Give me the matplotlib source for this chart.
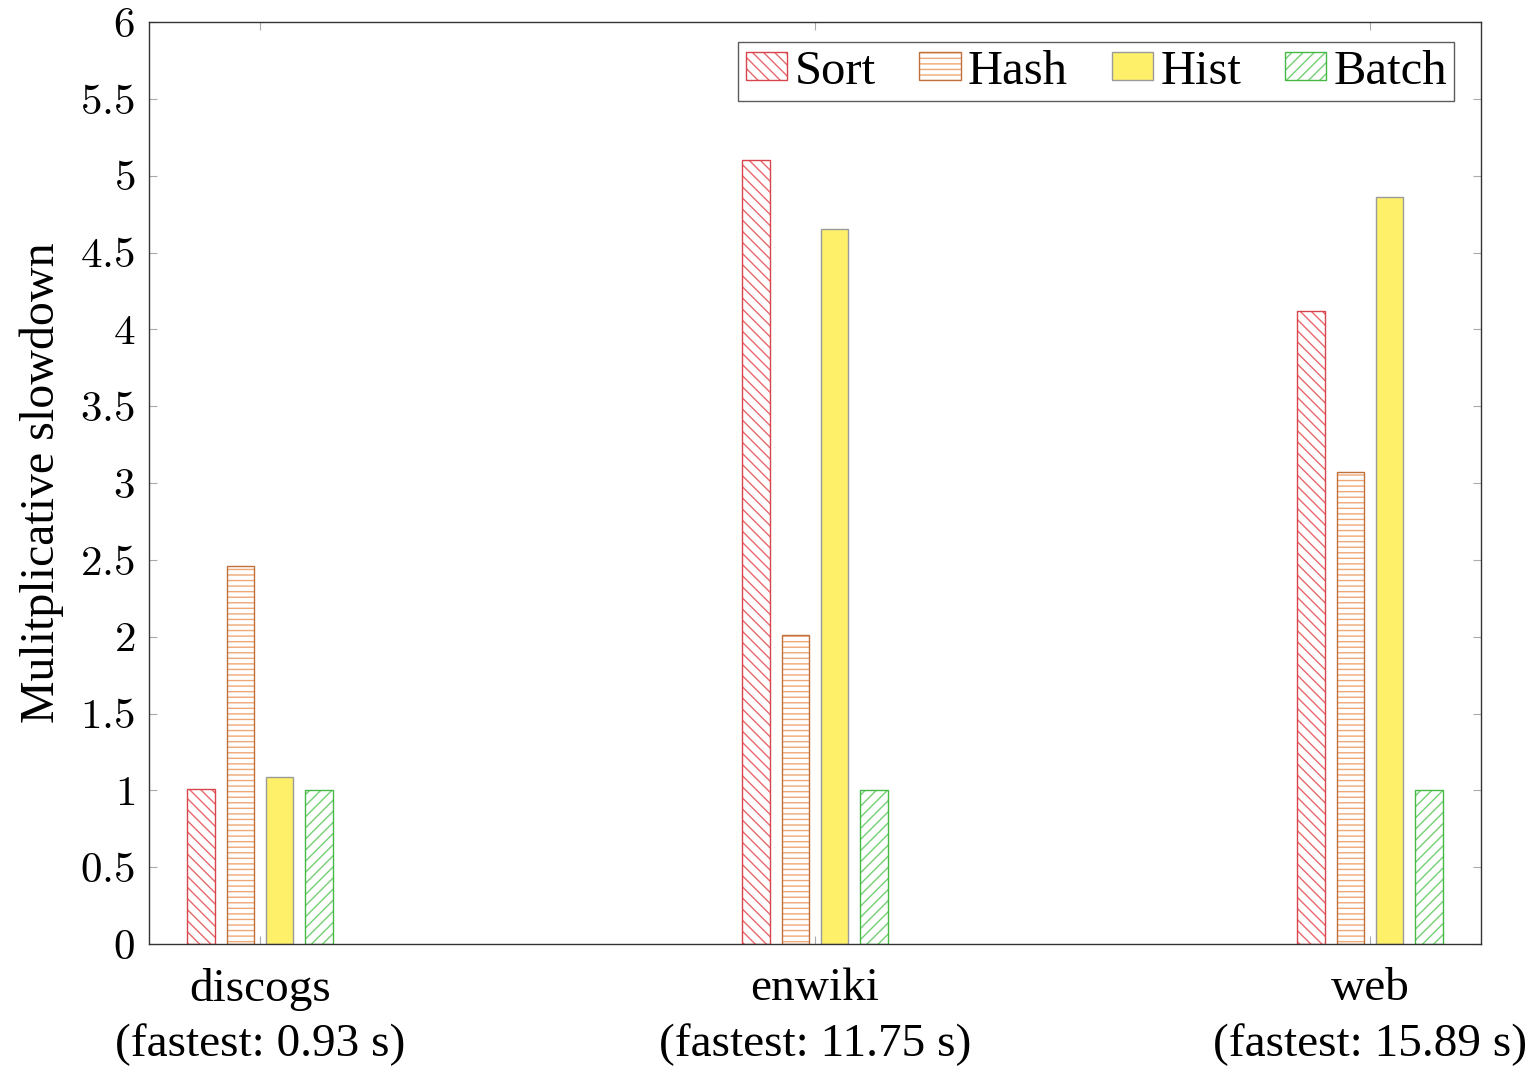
import matplotlib
matplotlib.use("Agg")
import matplotlib.pyplot as plt
import matplotlib.colors as mcolors
import numpy as np

categories = ["discogs", "enwiki", "web"]
fastest = ["0.93", "11.75", "15.89"]
series = ["Sort", "Hash", "Hist", "Batch"]
sort_vals = [1.01, 5.10, 4.12]
hash_vals = [2.46, 2.01, 3.07]
hist_vals = [1.09, 4.65, 4.86]
batch_vals = [1.00, 1.00, 1.00]
yticks = [0, 0.5, 1, 1.5, 2, 2.5, 3, 3.5, 4, 4.5, 5, 5.5, 6]
ytick_labels = ["0", "0.5", "1", "1.5", "2", "2.5", "3", "3.5", "4", "4.5", "5", "5.5", "6"]

plt.rcParams['font.family'] = ['Liberation Serif', 'DejaVu Serif']
plt.rcParams['mathtext.fontset'] = 'cm'
plt.rcParams['hatch.linewidth'] = 1.0

fig = plt.figure(figsize=(15.35, 10.71), dpi=100)
ax = fig.add_axes([149/1535, 1 - 944/1071, (1481-149)/1535, (944-22)/1071])

x = np.arange(len(categories))
width = 0.05
step = 0.0705
offsets = [-1.5*step, -0.5*step, 0.5*step, 1.5*step]
styles = [
    dict(facecolor='white', edgecolor='#d9434a', hatch='\\\\\\'),
    dict(facecolor='white', edgecolor='#c0703a', hatch='---'),
    dict(facecolor='#fff06a', edgecolor='#9a9a9a', hatch=None),
    dict(facecolor='white', edgecolor='#45b845', hatch='///'),
]
hatch_colors = ['#e8676c', '#eea878', None, '#74d074']
vals = [sort_vals, hash_vals, hist_vals, batch_vals]
for name, v, off, st, hc in zip(series, vals, offsets, styles, hatch_colors):
    bars = ax.bar(x + off, v, width, label=name, linewidth=1.0, **st)
    if hc is not None:
        for b in bars:
            b._hatch_color = mcolors.to_rgba(hc)

ax.set_xlim(-0.2, 2.2)
ax.set_ylim(0, 6)
ax.set_yticks(yticks)
ax.set_yticklabels(["$" + t + "$" for t in ytick_labels], fontsize=31)
ax.set_xticks(x)
ax.set_xticklabels([f"{c}\n(fastest: {f} s)" for c, f in zip(categories, fastest)],
                   fontsize=34, linespacing=1.4)
ax.tick_params(axis='both', direction='in', length=6, color='#aaaaaa',
               top=True, right=True)
ax.tick_params(axis='y', pad=10)
ax.tick_params(axis='x', pad=17)
for s in ax.spines.values():
    s.set_color('#333333')
    s.set_linewidth(1.0)
ax.set_ylabel("Mulitplicative slowdown", fontsize=34.5, labelpad=12)

leg = ax.legend(loc='upper right', ncol=4, fontsize=35, frameon=True, fancybox=False,
                edgecolor='#333333', handlelength=0.85, handleheight=0.5,
                handletextpad=0.15, columnspacing=0.9, borderpad=0.15,
                bbox_to_anchor=(0.98, 0.978), borderaxespad=0)
leg.get_frame().set_linewidth(1.0)
for h, hc in zip(leg.legend_handles, hatch_colors):
    if hc is not None:
        h._hatch_color = mcolors.to_rgba(hc)

fig.savefig("out.png", dpi=100)
